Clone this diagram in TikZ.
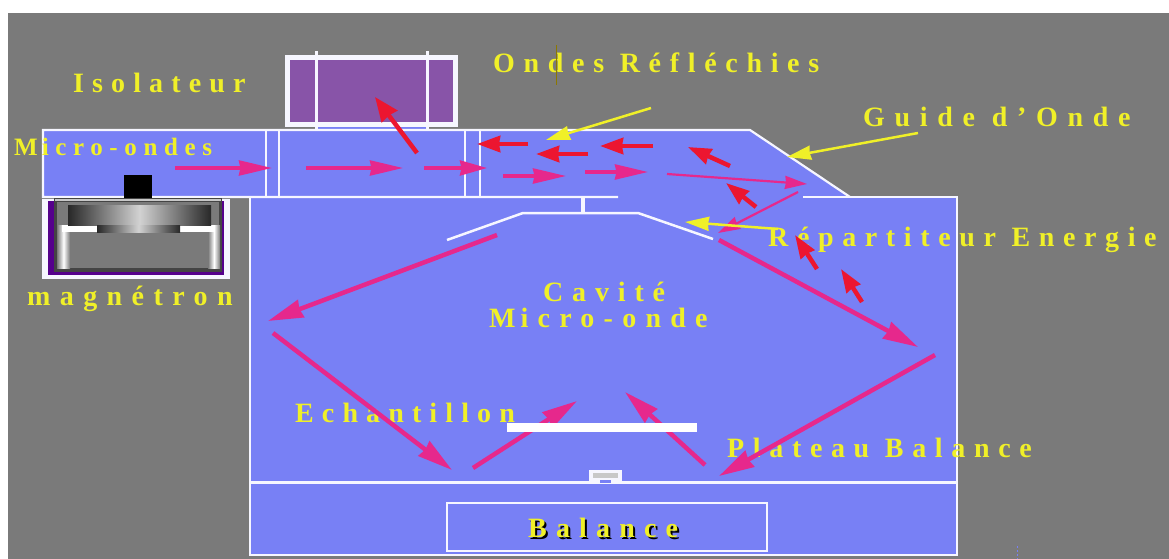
\documentclass[tikz,border=0pt]{standalone}
\usepackage{fontspec}
\setmainfont{Liberation Serif}
\usetikzlibrary{arrows.meta}

\definecolor{bggray}{RGB}{122,122,122}
\definecolor{guideblue}{RGB}{120,128,245}
\definecolor{isopurple}{RGB}{136,84,168}
\definecolor{magpurple}{RGB}{85,0,140}
\definecolor{labyellow}{RGB}{240,240,40}
\definecolor{wavepink}{RGB}{230,40,140}
\definecolor{wavered}{RGB}{236,22,48}
\definecolor{edgewhite}{RGB}{246,246,255}
\definecolor{cursorolive}{RGB}{140,120,0}
\definecolor{bodydark}{RGB}{68,68,68}
\definecolor{barlight}{RGB}{210,210,210}
\definecolor{bardark}{RGB}{40,40,40}
\definecolor{padgray}{RGB}{200,200,200}

% bold spaced caption font: size, letter spacing
\newcommand\capfont[2]{\bfseries\fontsize{#1}{#1}\selectfont\addfontfeature{LetterSpace=#2}}

\begin{document}
\begin{tikzpicture}[x=1pt,y=-1pt,
  lbl/.style={text=labyellow, inner sep=0pt, anchor=base west},
  wall/.style={draw=edgewhite, line width=2.2pt},
  fwd/.style={wavepink, line width=3.3pt, -{Stealth[length=33pt,width=15pt,inset=1.5pt]}},
  fwdlong/.style={wavepink, line width=4.5pt, -{Stealth[length=35pt,width=18pt,inset=1.5pt]}},
  fwdthin/.style={wavepink, line width=2.2pt, -{Stealth[length=22pt,width=13pt,inset=1pt]}},
  back/.style={wavered, line width=4.5pt, -{Stealth[length=23pt,width=16pt,inset=1pt]}},
  pointer/.style={labyellow, line width=2.5pt, -{Stealth[length=24pt,width=14pt,inset=1pt]}},
  hbar/.style={left color=bardark, right color=bardark, middle color=barlight},
  vbar/.style={left color=bggray, right color=bggray, middle color=white}]

% page and backdrop
\useasboundingbox (0,0) rectangle (1169,559);
\fill[white] (0,0) rectangle (1169,559);
\fill[bggray] (8,13) rectangle (1169,559);

% waveguide, cavity and balance housing
\fill[guideblue] (43,130) -- (750,130) -- (850,197) -- (43,197) -- cycle;
\fill[guideblue] (250,197) rectangle (957,482);
\fill[guideblue] (250,482) rectangle (957,555);

% isolator
\fill[edgewhite] (285,55) rectangle (458,127);
\fill[isopurple] (290,60) rectangle (453,122);
\fill[guideblue] (316,127) rectangle (427,130);
\draw[edgewhite, line width=3pt] (316,51) -- (316,130) (427,51) -- (427,130);

% walls
\draw[wall] (618,197) -- (43,197) -- (43,130) -- (750,130) -- (850,197);
\draw[wall] (803,197) -- (957,197) -- (957,555) -- (250,555) -- (250,197);
\draw[wall, line width=3pt] (250,482) -- (957,482);
\draw[wall, line width=1.8pt] (266,130) rectangle (279,197) (465,130) rectangle (480,197);

% energy distributor
\draw[edgewhite, line width=4pt] (583,197) -- (583,214);
\draw[edgewhite, line width=2.5pt] (447,240) -- (523,213) -- (638,213) -- (713,239);

% balance display
\draw[edgewhite, line width=1.5pt] (447,503) rectangle (767,551);

% magnetron
\fill[edgewhite] (42,199) rectangle (230,279);
\fill[magpurple] (48,201) rectangle (224,275);
\fill[bodydark] (54,198) rectangle (222,272);
\fill[bggray] (57,202) rectangle (219,268);
\draw[padgray, line width=2pt] (55,200) -- (221,200);
\shade[vbar] (57,225) rectangle (70,268);
\shade[vbar] (208,225) rectangle (220,268);
\fill[white] (62,225) rectangle (214,232);
\shade[hbar] (68,205) rectangle (211,225);
\shade[hbar] (97,225) rectangle (180,232);
\fill[black] (124,175) rectangle (152,198);

% captions
\node[lbl, font=\capfont{28}{29}] (iso) at (73,93) {Isolateur};
\node[lbl, font=\capfont{25}{26.5}] (mo) at (14,155) {M\kern4pt icro-ondes};
\node[lbl, font=\capfont{28}{31}] (ondes) at (493,73) {Ondes Réfléchies};
\node[lbl, font=\capfont{28}{34.6}] (guide) at (863,127) {Guide d’Onde};
\node[lbl, font=\capfont{28}{30.8}] (rep) at (768,246) {Répartiteur Energie};
\node[lbl, font=\capfont{28}{33.6}] (mag) at (27,305) {magnétron};
\node[lbl, font=\capfont{28}{31.6}] (cav) at (543,301) {Cavité};
\node[lbl, font=\capfont{28}{33}] (cav2) at (489,327) {M\kern5pt icro-onde};
\node[lbl, font=\capfont{28}{29}] (ech) at (295,422) {Echantillon};
\node[lbl, font=\capfont{28}{30.9}] (plat) at (727,457) {Plateau Balance};
\node[lbl, font=\capfont{28}{32.8}, text=black] at (530,539) {Balance};
\node[lbl, font=\capfont{28}{32.8}] (bal) at (528,537) {Balance};

% text cursor mark
\draw[cursorolive, line width=1pt] (556,45) -- (556,85);

% incident waves in the guide
\draw[fwd] (175,168) -- (272,168);
\draw[fwd] (306,168) -- (403,168);
\draw[wavepink, line width=3.3pt, -{Stealth[length=27pt,width=15pt,inset=1.5pt]}] (424,168) -- (487,168);
\draw[fwd] (503,176) -- (566,176);
\draw[fwd] (585,172) -- (648,172);
\draw[fwdthin] (667,174) -- (807,184);
\draw[fwdthin] (798,192) -- (718,233);

% waves in the cavity
\draw[fwdlong] (497,235) -- (268,321);
\draw[fwdlong] (273,333) -- (452,470);
\draw[fwdlong] (473,468) -- (577,401);
\draw[fwdlong] (705,465) -- (625,392);
\draw[fwdlong] (935,355) -- (719,476);
\draw[fwdlong] (719,240) -- (918,347);

% reflected waves
\draw[back] (528,144) -- (477,144);
\draw[back] (588,154) -- (536,154);
\draw[back] (653,146) -- (600,146);
\draw[back] (730,166) -- (688,147);
\draw[back] (756,207) -- (726,183);
\draw[back] (817,269) -- (795,235);
\draw[back] (862,302) -- (841,269);
\draw[wavered, line width=4.5pt, -{Stealth[length=24pt,width=19pt,inset=1pt]}] (417,153) -- (375,97);

% caption pointers
\coordinate (p1) at (546,140);
\coordinate (p2) at (787,157);
\coordinate (p3) at (685,222);
\draw[pointer] (651,108) -- (p1);
\draw[pointer] (918,133) -- (p2);
\draw[pointer] (778,229) -- (p3);

% sample holder and balance pad
\fill[white] (507,423) rectangle (697,432);
\fill[edgewhite] (589,470) rectangle (622,481);
\fill[padgray] (593,473) rectangle (618,478);
\fill[guideblue] (600,480) rectangle (611,483);

% small mark below
\draw[guideblue, line width=1pt, dash pattern=on 2pt off 2pt] (1017,546) -- (1017,559);
\end{tikzpicture}
\end{document}
